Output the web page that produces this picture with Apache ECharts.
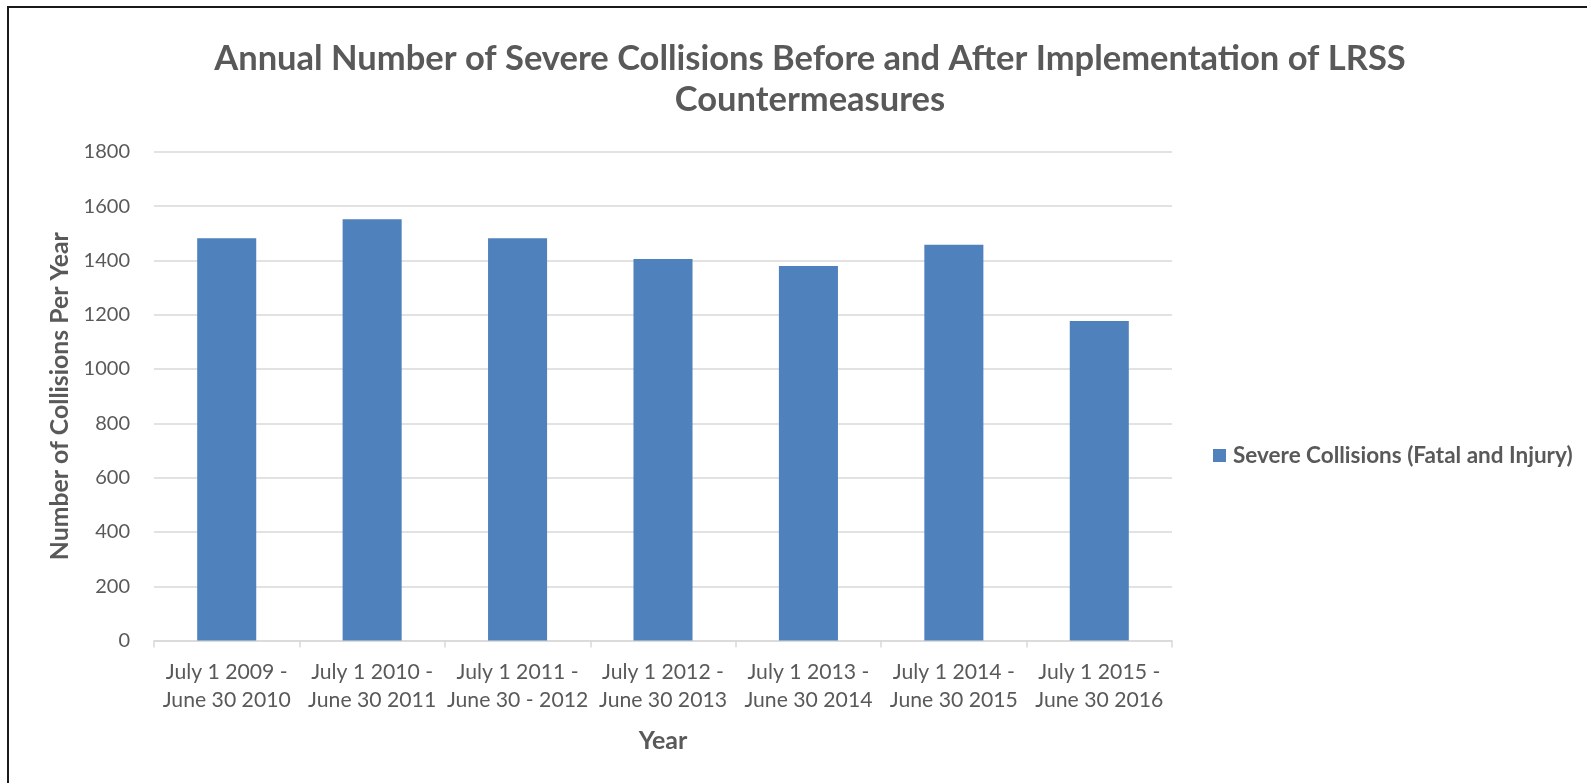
<!DOCTYPE html>
<html>
<head>
<meta charset="utf-8">
<title>Annual Number of Severe Collisions</title>
<script src="https://cdn.jsdelivr.net/npm/echarts@6/dist/echarts.min.js"></script>
<style>
  html, body { margin: 0; padding: 0; background: #ffffff; }
  #chart { width: 1587px; height: 783px; }
</style>
</head>
<body>
<div id="chart"></div>
<script>
// Collision periods (two-line labels) and annual severe collision counts
const periods = [
  'July 1 2009 -\nJune 30 2010',
  'July 1 2010 -\nJune 30 2011',
  'July 1 2011 -\nJune 30 - 2012',
  'July 1 2012 -\nJune 30 2013',
  'July 1 2013 -\nJune 30 2014',
  'July 1 2014 -\nJune 30 2015',
  'July 1 2015 -\nJune 30 2016'
];
const severeCollisions = [1482, 1552, 1482, 1405, 1379, 1458, 1177];
const seriesName = 'Severe Collisions (Fatal and Injury)';
const yTicks = { min: 0, max: 1800, step: 200 };

const FONT = 'Lato';
const GRAY = '#595959';

const chart = echarts.init(document.getElementById('chart'), null, { renderer: 'canvas' });

chart.setOption({
  backgroundColor: '#ffffff',
  animation: false,
  title: {
    text: 'Annual Number of Severe Collisions Before and After Implementation of LRSS\nCountermeasures',
    left: 805,
    top: 33,
    textAlign: 'center',
    textStyle: {
      fontFamily: FONT,
      fontWeight: 'bold',
      fontSize: 34.5,
      lineHeight: 41,
      color: GRAY
    }
  },
  legend: {
    orient: 'vertical',
    left: 1213,
    top: 444,
    padding: 0,
    itemWidth: 13,
    itemHeight: 13,
    itemGap: 6,
    icon: 'rect',
    data: [seriesName],
    textStyle: {
      fontFamily: FONT,
      fontWeight: 'bold',
      fontSize: 22.5,
      color: GRAY,
      padding: [0, 0, 0, 2]
    }
  },
  grid: {
    left: 154,
    right: 415,
    top: 151.8,
    bottom: 142.4,
    containLabel: false
  },
  xAxis: {
    type: 'category',
    data: periods,
    name: 'Year',
    nameLocation: 'middle',
    nameGap: 88,
    nameTextStyle: {
      fontFamily: FONT,
      fontWeight: 'bold',
      fontSize: 25,
      color: GRAY
    },
    axisLine: { lineStyle: { color: '#d9d9d9', width: 1.5 } },
    axisTick: { show: true, length: 7, lineStyle: { color: '#d9d9d9', width: 1.5 } },
    axisLabel: {
      fontFamily: FONT,
      fontSize: 21.2,
      lineHeight: 28,
      color: GRAY,
      margin: 18,
      interval: 0
    }
  },
  yAxis: {
    type: 'value',
    min: yTicks.min,
    max: yTicks.max,
    interval: yTicks.step,
    name: 'Number of Collisions Per Year',
    nameLocation: 'middle',
    nameGap: 76,
    nameTextStyle: {
      fontFamily: FONT,
      fontWeight: 'bold',
      fontSize: 24.8,
      color: GRAY
    },
    axisLine: { show: false },
    axisTick: { show: false },
    axisLabel: {
      fontFamily: FONT,
      fontSize: 20,
      color: GRAY,
      margin: 24,
      formatter: (v) => String(v)
    },
    splitLine: { lineStyle: { color: '#d9d9d9', width: 1.5 } }
  },
  series: [{
    name: seriesName,
    type: 'bar',
    data: severeCollisions,
    barWidth: '40.6%',
    itemStyle: { color: '#4f81bd' }
  }],
  graphic: [{
    // frame edges along the top and left of the chart area
    type: 'polyline',
    silent: true,
    shape: { points: [[8, 783], [8, 7], [1587, 7]] },
    style: { stroke: '#1a1a1a', lineWidth: 2, fill: null }
  }]
});
</script>
</body>
</html>
